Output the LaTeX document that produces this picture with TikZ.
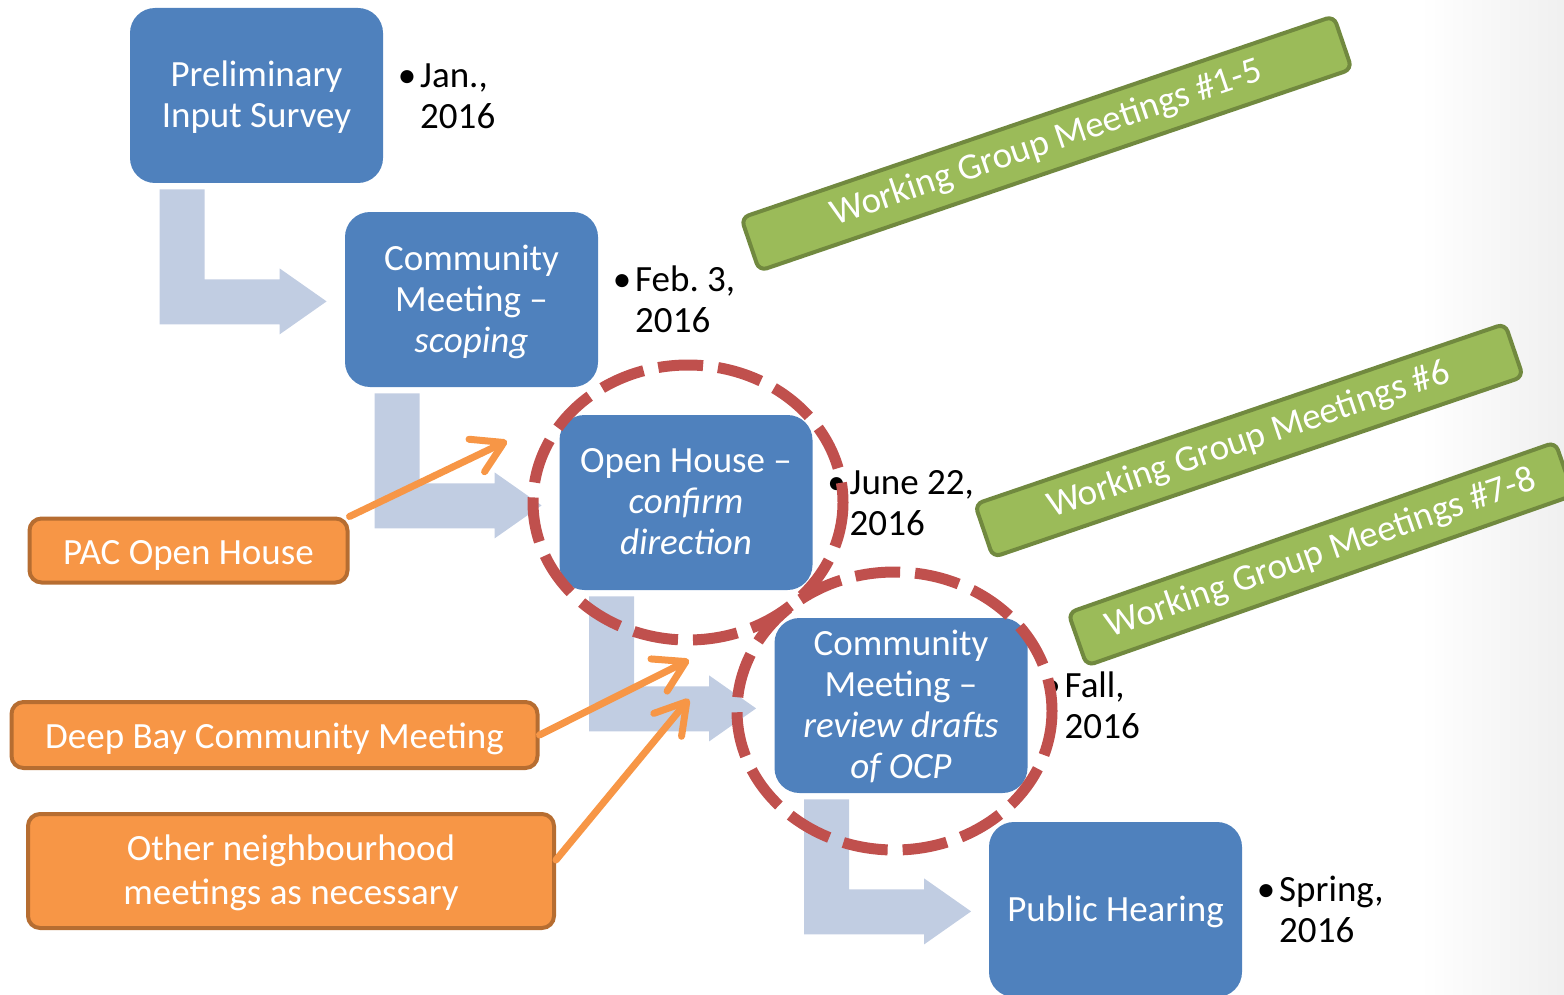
\documentclass[tikz,border=0pt]{standalone}
\usepackage{fontspec}
\setmainfont{Carlito}
\usepackage{tikz}
\usetikzlibrary{positioning,calc,arrows.meta}

\definecolor{stageblue}{RGB}{79,129,189}
\definecolor{flowgray}{RGB}{193,205,226}
\definecolor{pacfill}{RGB}{247,150,70}
\definecolor{pacline}{RGB}{182,109,49}
\definecolor{wgfill}{RGB}{155,187,89}
\definecolor{wgline}{RGB}{113,137,63}
\definecolor{ringred}{RGB}{192,80,77}

\tikzset{
  bigfont/.style={font=\fontsize{18.5}{20.5}\selectfont},
  stage/.style={bigfont, fill=stageblue, text=white, rounded corners=12.5pt,
    minimum width=126.5pt, minimum height=87.5pt, align=center, inner sep=0pt,
    text depth=1pt},
  when/.style={bigfont, inner sep=0pt, yshift=-2pt},
  side/.style={bigfont, fill=pacfill, draw=pacline, line width=2pt, text=white,
    rounded corners=6pt, align=center, inner sep=0pt},
  wgroup/.style={bigfont, fill=wgfill, draw=wgline, line width=2pt, text=white,
    rounded corners=4pt, minimum height=28pt, inner sep=0pt},
  feed/.style={draw=pacfill, line width=3.5pt, line cap=round,
    -{Straight Barb[length=15pt,width=18pt,round]}},
  ring/.style={draw=ringred, line width=5.5pt, dash pattern=on 22.5pt off 7.5pt},
  elbow/.pic={
    \fill[flowgray] (30,6) -- (75,6) -- (75,96) -- (150,96) -- (150,85)
      -- (197,118) -- (150,151) -- (150,141) -- (30,141) -- cycle;
  }
}

\newcommand{\datebox}[1]{\begin{tabular}{@{}l@{\hspace{2pt}}l@{}}\textbullet & #1\\ & 2016\end{tabular}}

\begin{document}
\begin{tikzpicture}[x=0.5pt,y=-0.5pt]
\useasboundingbox (0,0) rectangle (1564,995);
\shade[left color=white,right color=black!6] (1420,0) rectangle (1564,995);

% the five stages
\node[stage] (prel) at (256.5,95.5) {Preliminary\\Input Survey};
\node[stage] (comm) at (471.5,299.5) {Community\\Meeting --\\\textit{scoping}};
\node[stage] (open) at (686,502.5) {Open House --\\\textit{confirm}\\\textit{direction}};
\node[stage] (review) at (901,705.5) {Community\\Meeting --\\\textit{review drafts}\\\textit{of OCP}};
\node[stage] (hear) at (1115.5,909.5) {Public Hearing};

% flow between stages
\pic at (prel.south west) {elbow};
\pic at (comm.south west) {elbow};
\pic at (open.south west) {elbow};
\pic at (review.south west) {elbow};

% dates
\node[when, right=7pt of prel] (jan) {\datebox{Jan.,}};
\node[when, right=7pt of comm] (feb) {\datebox{Feb.\ 3,}};
\node[when, right=7pt of open] (june) {\datebox{June 22,}};
\node[when, right=7pt of review] (fall) {\datebox{Fall,}};
\node[when, right=7pt of hear] (spring) {\datebox{Spring,}};

% other meetings
\node[side, minimum width=159pt, minimum height=32pt, text height=17pt] (pac) at (188.5,550.5) {PAC Open House};
\node[side, minimum width=263pt, minimum height=33pt, text height=17pt] (deep) at (274.5,735) {Deep Bay Community Meeting};
\node[side, minimum width=263pt, minimum height=57pt, text depth=1pt, font=\fontsize{18.5}{22}\selectfont] (other) at (291,871) {Other neighbourhood\\meetings as necessary};

\coordinate (tipa) at (507,441);
\coordinate (tipb) at (689,660);
\coordinate (tipc) at (689,699);
\draw[feed] (pac.north east) -- (tipa);
\draw[feed] (deep.east) -- (tipb);
\draw[feed] ([yshift=5.5pt]other.east) -- (tipc);

% working group banners
\node[wgroup, minimum width=313pt, rotate=18.8] (wga) at (1046.5,143.5) {Working Group Meetings \#1-5};
\node[wgroup, minimum width=280pt, rotate=18.8] (wgb) at (1249,440.5) {Working Group Meetings \#6};
\node[wgroup, minimum width=258pt, rotate=19.3] (wgc) at (1321,554) {Working Group Meetings \#7-8};

% highlighted stages
\draw[ring] ($(open.center)+(2,0)$) ellipse [x radius=155, y radius=137.5];
\draw[ring] ($(review.center)+(-6.5,5.5)$) ellipse [x radius=157.5, y radius=139];
\end{tikzpicture}
\end{document}
